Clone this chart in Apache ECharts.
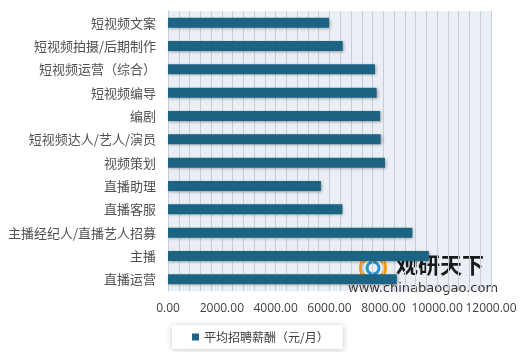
<!DOCTYPE html>
<html><head><meta charset="utf-8">
<script src="https://cdn.jsdelivr.net/npm/echarts@6/dist/echarts.min.js"></script>
<style>html,body{margin:0;padding:0;background:#fff}#c{width:520px;height:352px}</style>
</head><body><div id="c"></div>
<script>
var categories = ['短视频文案','短视频拍摄/后期制作','短视频运营（综合）','短视频编导','编剧','短视频达人/艺人/演员','视频策划','直播助理','直播客服','主播经纪人/直播艺人招募','主播','直播运营'];
var salary = [5980, 6490, 7690, 7750, 7880, 7900, 8060, 5680, 6480, 9080, 9690, 8500];
var seriesName = '平均招聘薪酬（元/月）';
var xTicks = [0, 2000, 4000, 6000, 8000, 10000, 12000];

var chart = echarts.init(document.getElementById('c'));
chart.setOption({
  animation: false,
  grid: {left: 168, right: 29, top: 11, bottom: 61, show: true, backgroundColor: '#e9eff5', borderWidth: 0},
  xAxis: {
    type: 'value', min: xTicks[0], max: xTicks[xTicks.length-1], interval: 2000,
    axisLine: {show: false}, axisTick: {show: false},
    axisLabel: {formatter: function(v){return v.toFixed(2);}, color: '#404040', fontSize: 12, fontFamily: 'Open Sans', margin: 12},
    splitLine: {show: true, lineStyle: {color: '#c8cdd3', width: 1}},
    minorTick: {show: false, splitNumber: 5},
    minorSplitLine: {show: true, lineStyle: {color: '#c8cdd3', width: 1}}
  },
  yAxis: {
    type: 'category', data: categories, inverse: true,
    axisLine: {show: true, lineStyle: {color: '#c8cdd3'}}, axisTick: {show: false},
    axisLabel: {color: '#505050', fontSize: 13, fontFamily: 'Noto Sans CJK SC', margin: 12}
  },
  legend: {
    show: true, bottom: 3, left: 172, padding: [6, 14, 6, 20],
    backgroundColor: '#ffffff', shadowColor: 'rgba(0,0,0,0.22)', shadowBlur: 6, shadowOffsetY: 1,
    itemWidth: 7, itemHeight: 7, icon: 'rect',
    textStyle: {color: '#404040', fontSize: 12, fontFamily: 'Noto Sans CJK SC'}
  },
  series: [{
    name: seriesName, type: 'bar', data: salary, barWidth: 10,
    itemStyle: {color: '#1d6384', shadowColor: 'rgba(0,0,0,0.35)', shadowBlur: 3, shadowOffsetX: 1, shadowOffsetY: 1}
  }],
  graphic: [
    {type: 'text', left: 396, top: 254, style: {text: '观研天下', fontSize: 22, fontWeight: 'bold', fill: '#1a1a1a', fontFamily: 'Noto Sans CJK SC'}},
    {type: 'text', left: 348, top: 282, style: {text: 'www.chinabaogao.com', fontSize: 13, fill: '#333', fontFamily: 'DejaVu Sans'}},
    {type: 'circle', shape: {cx: 373, cy: 268, r: 12}, style: {fill: 'none', stroke: '#f39c12', lineWidth: 4}},
    {type: 'circle', shape: {cx: 373, cy: 268, r: 6}, style: {fill: 'none', stroke: '#2b8fd0', lineWidth: 3}}
  ]
});
</script></body></html>
